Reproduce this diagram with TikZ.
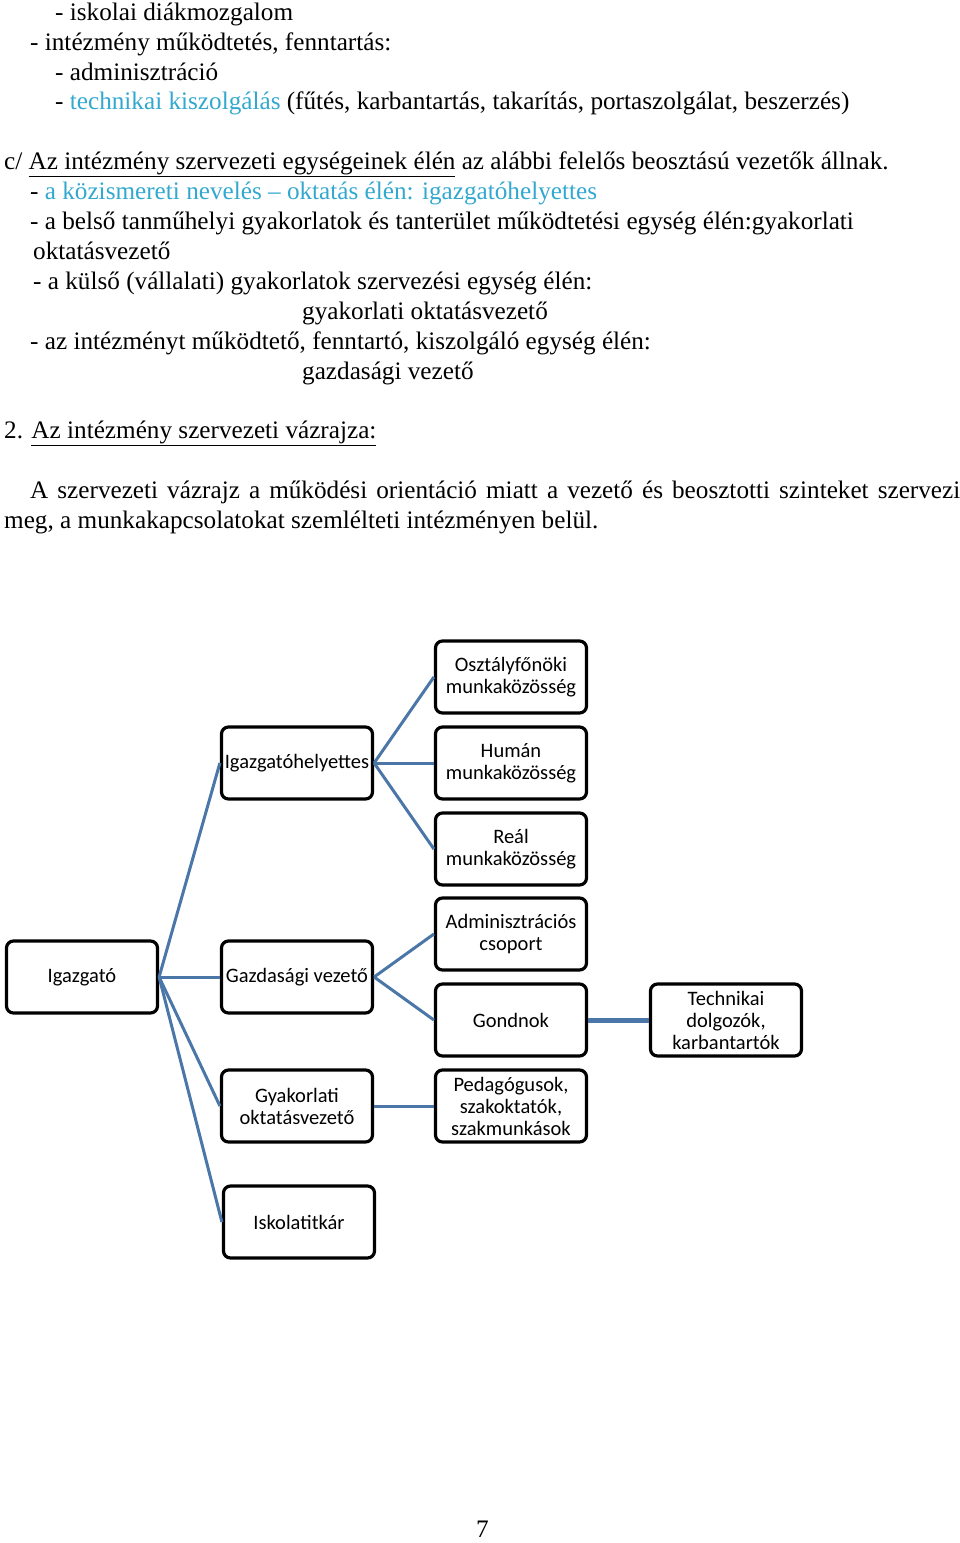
\documentclass[tikz,border=0pt]{standalone}
\usepackage{fontspec}
\setmainfont{Liberation Serif}
\newfontfamily\boxfont{Carlito}
\definecolor{txtcyan}{HTML}{33A8CF}
\definecolor{linkblue}{HTML}{4A76A8}
\tikzset{
  para/.style={anchor=base west,inner sep=0pt,font=\fontsize{25.2}{30}\selectfont},
  unit/.style={draw=black,line width=3.2pt,rounded corners=7pt,minimum width=151pt,minimum height=72pt,align=center,inner sep=2pt,font=\boxfont\fontsize{20.5}{22}\selectfont,fill=white},
  link/.style={draw=linkblue,line width=3pt},
  thicklink/.style={draw=linkblue,line width=5pt}
}
\begin{document}
\begin{tikzpicture}[x=1pt,y=-1pt]
\useasboundingbox (0,0) rectangle (960,1543);
% text block
\node[para] (t1) at (55,20) {- iskolai diákmozgalom};
\node[para] (t2) at (30,50) {- intézmény működtetés, fenntartás:};
\node[para] (t3) at (55,80) {- adminisztráció};
\node[para] (t4) at (55,109) {- \textcolor{txtcyan}{technikai kiszolgálás} (fűtés, karbantartás, takarítás, portaszolgálat, beszerzés)};
\node[para] (t5) at (4,169) {c/ \underline{Az intézmény szervezeti egységeinek élén} az alábbi felelős beosztású vezetők állnak.};
\node[para] (t6) at (30,199) {- \textcolor{txtcyan}{a közismereti nevelés – oktatás élén: igazgatóhelyettes}};
\node[para] (t7) at (30,229) {- a belső tanműhelyi gyakorlatok és tanterület működtetési egység élén:gyakorlati};
\node[para] (t8) at (33,259) {oktatásvezető};
\node[para] (t9) at (33,289) {- a külső (vállalati) gyakorlatok szervezési egység élén:};
\node[para] (t10) at (302,319) {gyakorlati oktatásvezető};
\node[para] (t11) at (30,349) {- az intézményt működtető, fenntartó, kiszolgáló egység élén:};
\node[para] (t12) at (302,379) {gazdasági vezető};
\node[para] (t13) at (4,438) {2. \underline{Az intézmény szervezeti vázrajza:}};
\node[para] (t14) at (30,498) {\makebox[930pt][s]{A szervezeti vázrajz a működési orientáció miatt a vezető és beosztotti szinteket szervezi}};
\node[para] (t15) at (4,528) {meg, a munkakapcsolatokat szemlélteti intézményen belül.};
\node[para] (pg) at (476,1537) {7};
% org chart boxes
\node[unit] (igazgato) at (82,977) {Igazgató};
\node[unit] (helyettes) at (297,763) {Igazgatóhelyettes};
\node[unit] (gazd) at (297,977) {Gazdasági vezető};
\node[unit] (gyak) at (297,1106) {Gyakorlati\\oktatásvezető};
\node[unit] (titkar) at (299,1222) {Iskolatitkár};
\node[unit] (osztaly) at (511,677) {Osztályfőnöki\\munkaközösség};
\node[unit] (human) at (511,763) {Humán\\munkaközösség};
\node[unit] (real) at (511,849) {Reál\\munkaközösség};
\node[unit] (admin) at (511,934) {Adminisztrációs\\csoport};
\node[unit] (gondnok) at (511,1020) {Gondnok};
\node[unit] (pedag) at (511,1106) {Pedagógusok,\\szakoktatók,\\szakmunkások};
\node[unit] (techn) at (726,1020) {Technikai\\dolgozók,\\karbantartók};
% connectors
\draw[link] (igazgato.east) -- (helyettes.west);
\draw[link] (igazgato.east) -- (gazd.west);
\draw[link] (igazgato.east) -- (gyak.west);
\draw[link] (igazgato.east) -- (titkar.west);
\draw[link] (helyettes.east) -- (osztaly.west);
\draw[link] (helyettes.east) -- (human.west);
\draw[link] (helyettes.east) -- (real.west);
\draw[link] (gazd.east) -- (admin.west);
\draw[link] (gazd.east) -- (gondnok.west);
\draw[link] (gyak.east) -- (pedag.west);
\draw[thicklink] (gondnok.east) -- (techn.west);
\end{tikzpicture}
\end{document}
